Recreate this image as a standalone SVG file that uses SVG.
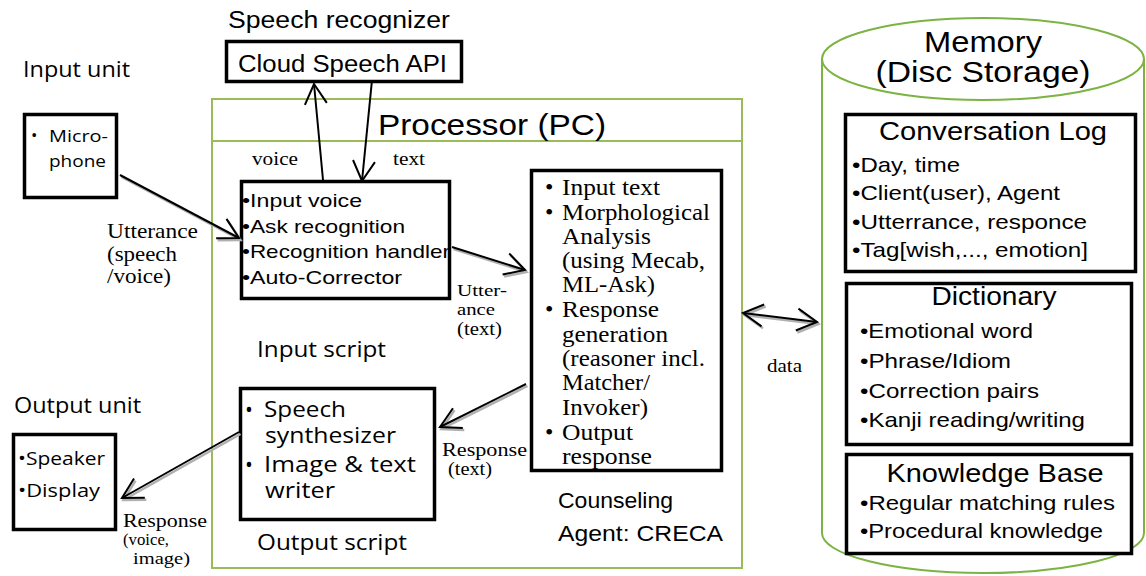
<svg xmlns="http://www.w3.org/2000/svg" width="1146" height="576" viewBox="0 0 1146 576">
<defs>
<style>
.box{fill:#fff;stroke:#000;stroke-width:3.5}
.ar{font-family:"Liberation Sans",Arial,sans-serif;fill:#000}
.ca{font-family:"Open Sans","Liberation Sans",sans-serif;fill:#000}
.tm{font-family:"Liberation Serif","Times New Roman",serif;fill:#000}
.ln{fill:none;stroke:#000;stroke-width:2}
.sh{fill:none;stroke:#b0b0b0;stroke-width:2.5}
</style>
<marker id="ah" viewBox="-24 -14 28 28" markerWidth="28" markerHeight="28" refX="0" refY="0" orient="auto-start-reverse" markerUnits="userSpaceOnUse">
<path d="M-20,-11 L0,0 L-20,11" fill="none" stroke="#000" stroke-width="2"/>
</marker>
<marker id="ahg" viewBox="-24 -14 28 28" markerWidth="28" markerHeight="28" refX="0" refY="0" orient="auto-start-reverse" markerUnits="userSpaceOnUse">
<path d="M-20,-11 L0,0 L-20,11" fill="none" stroke="#b0b0b0" stroke-width="2.5"/>
</marker>
</defs>
<rect width="1146" height="576" fill="#fff"/>

<g id="processor">
<rect x="212" y="99" width="530" height="469" fill="none" stroke="#9bbb59" stroke-width="2"/>
<line x1="212" y1="141" x2="742" y2="141" stroke="#9bbb59" stroke-width="2"/>
<text class="ar" x="378" y="135" font-size="29" textLength="228" lengthAdjust="spacingAndGlyphs">Processor (PC)</text>
<text class="ca" x="257" y="357" font-size="22" textLength="129" lengthAdjust="spacingAndGlyphs">Input script</text>
<text class="ca" x="257" y="550" font-size="22" textLength="150" lengthAdjust="spacingAndGlyphs">Output script</text>
<text class="ar" x="558" y="508" font-size="22" textLength="115" lengthAdjust="spacingAndGlyphs">Counseling</text>
<text class="ar" x="558" y="541" font-size="22" textLength="165" lengthAdjust="spacingAndGlyphs">Agent: CRECA</text>
</g>

<g id="memory">
<path d="M822,59 L822,533 A161,40 0 0 0 1144,533 L1144,59" fill="none" stroke="#7cb342" stroke-width="2"/>
<ellipse cx="983" cy="59" rx="161" ry="41" fill="#fff" stroke="#7cb342" stroke-width="2"/>
<text class="ar" x="983" y="52" font-size="29" text-anchor="middle" textLength="118" lengthAdjust="spacingAndGlyphs">Memory</text>
<text class="ar" x="983" y="82" font-size="29" text-anchor="middle" textLength="215" lengthAdjust="spacingAndGlyphs">(Disc Storage)</text>
</g>

<g id="speech-recognizer">
<text class="ar" x="228" y="28" font-size="23" textLength="222" lengthAdjust="spacingAndGlyphs">Speech recognizer</text>
<rect class="box" x="226.5" y="41.5" width="235" height="40"/>
<text class="ar" x="238" y="72" font-size="23" textLength="209" lengthAdjust="spacingAndGlyphs">Cloud Speech API</text>
</g>

<g id="input-unit">
<text class="ca" x="23" y="77" font-size="22" textLength="107" lengthAdjust="spacingAndGlyphs">Input unit</text>
<rect class="box" x="24.5" y="114.5" width="92" height="83"/>
<text class="ca" x="31" y="141" font-size="17">•</text>
<text class="ca" x="49" y="142" font-size="17" textLength="59" lengthAdjust="spacingAndGlyphs">Micro-</text>
<text class="ca" x="49" y="167" font-size="17" textLength="57" lengthAdjust="spacingAndGlyphs">phone</text>
</g>

<g id="input-script">
<rect class="box" x="241.5" y="181.5" width="208" height="117"/>
<text class="ar" x="242" y="207" font-size="19" textLength="120" lengthAdjust="spacingAndGlyphs">•Input voice</text>
<text class="ar" x="242" y="233" font-size="19" textLength="163" lengthAdjust="spacingAndGlyphs">•Ask recognition</text>
<text class="ar" x="242" y="258" font-size="19" textLength="208" lengthAdjust="spacingAndGlyphs">•Recognition handler</text>
<text class="ar" x="242" y="284" font-size="19" textLength="160" lengthAdjust="spacingAndGlyphs">•Auto-Corrector</text>
</g>

<g id="counseling-agent">
<rect class="box" x="531.5" y="170.5" width="190" height="300"/>
<g class="tm" font-size="24">
<text x="545" y="195">•</text><text x="562" y="195" textLength="98" lengthAdjust="spacingAndGlyphs">Input text</text>
<text x="545" y="220">•</text><text x="562" y="220" textLength="148" lengthAdjust="spacingAndGlyphs">Morphological</text>
<text x="562" y="244" textLength="89" lengthAdjust="spacingAndGlyphs">Analysis</text>
<text x="562" y="268" textLength="143" lengthAdjust="spacingAndGlyphs">(using Mecab,</text>
<text x="562" y="292" textLength="93" lengthAdjust="spacingAndGlyphs">ML-Ask)</text>
<text x="545" y="317">•</text><text x="562" y="317" textLength="97" lengthAdjust="spacingAndGlyphs">Response</text>
<text x="562" y="342" textLength="106" lengthAdjust="spacingAndGlyphs">generation</text>
<text x="562" y="366" textLength="143" lengthAdjust="spacingAndGlyphs">(reasoner incl.</text>
<text x="562" y="390" textLength="88" lengthAdjust="spacingAndGlyphs">Matcher/</text>
<text x="562" y="415" textLength="86" lengthAdjust="spacingAndGlyphs">Invoker)</text>
<text x="545" y="440">•</text><text x="562" y="440" textLength="71" lengthAdjust="spacingAndGlyphs">Output</text>
<text x="562" y="464" textLength="90" lengthAdjust="spacingAndGlyphs">response</text>
</g>
</g>

<g id="output-script">
<rect class="box" x="240.5" y="388.5" width="194" height="131"/>
<text class="ca" x="245" y="417" font-size="21">•</text>
<text class="ca" x="264" y="417" font-size="21" textLength="82" lengthAdjust="spacingAndGlyphs">Speech</text>
<text class="ca" x="265" y="443" font-size="21" textLength="131" lengthAdjust="spacingAndGlyphs">synthesizer</text>
<text class="ca" x="245" y="472" font-size="21">•</text>
<text class="ca" x="264" y="472" font-size="21" textLength="152" lengthAdjust="spacingAndGlyphs">Image &amp; text</text>
<text class="ca" x="265" y="498" font-size="21" textLength="70" lengthAdjust="spacingAndGlyphs">writer</text>
</g>

<g id="output-unit">
<text class="ca" x="14" y="413" font-size="22" textLength="127" lengthAdjust="spacingAndGlyphs">Output unit</text>
<rect class="box" x="13.5" y="434.5" width="102" height="95"/>
<text class="ca" x="18" y="465" font-size="19" textLength="87" lengthAdjust="spacingAndGlyphs">•Speaker</text>
<text class="ca" x="18" y="497" font-size="19" textLength="82" lengthAdjust="spacingAndGlyphs">•Display</text>
</g>

<g id="conversation-log">
<rect class="box" x="845.5" y="114.5" width="290" height="157"/>
<text class="ar" x="993" y="140" font-size="26" text-anchor="middle" textLength="228" lengthAdjust="spacingAndGlyphs">Conversation Log</text>
<text class="ar" x="852" y="172" font-size="21" textLength="108" lengthAdjust="spacingAndGlyphs">•Day, time</text>
<text class="ar" x="852" y="200" font-size="21" textLength="208" lengthAdjust="spacingAndGlyphs">•Client(user), Agent</text>
<text class="ar" x="852" y="229" font-size="21" textLength="235" lengthAdjust="spacingAndGlyphs">•Utterrance, responce</text>
<text class="ar" x="852" y="257" font-size="21" textLength="236" lengthAdjust="spacingAndGlyphs">•Tag[wish,..., emotion]</text>
</g>

<g id="dictionary">
<rect class="box" x="846.5" y="283.5" width="285" height="161"/>
<text class="ar" x="994" y="305" font-size="26" text-anchor="middle" textLength="125" lengthAdjust="spacingAndGlyphs">Dictionary</text>
<text class="ar" x="860" y="338" font-size="21" textLength="173" lengthAdjust="spacingAndGlyphs">•Emotional word</text>
<text class="ar" x="860" y="368" font-size="21" textLength="151" lengthAdjust="spacingAndGlyphs">•Phrase/Idiom</text>
<text class="ar" x="860" y="398" font-size="21" textLength="179" lengthAdjust="spacingAndGlyphs">•Correction pairs</text>
<text class="ar" x="860" y="427" font-size="21" textLength="225" lengthAdjust="spacingAndGlyphs">•Kanji reading/writing</text>
</g>

<g id="knowledge-base">
<rect class="box" x="846.5" y="454.5" width="285" height="99"/>
<text class="ar" x="995" y="482" font-size="26" text-anchor="middle" textLength="217" lengthAdjust="spacingAndGlyphs">Knowledge Base</text>
<text class="ar" x="860" y="510" font-size="21" textLength="255" lengthAdjust="spacingAndGlyphs">•Regular matching rules</text>
<text class="ar" x="860" y="538" font-size="21" textLength="243" lengthAdjust="spacingAndGlyphs">•Procedural knowledge</text>
</g>

<g id="connectors">
<g transform="translate(1.5,2)">
<path class="sh" d="M120,175 L239,238" marker-end="url(#ahg)"/>
<path class="sh" d="M452,247 L525,270" marker-end="url(#ahg)"/>
<path class="sh" d="M526,384 L440,427" marker-end="url(#ahg)"/>
<path class="sh" d="M239,432 L122,498" marker-end="url(#ahg)"/>
<path class="sh" d="M743,313 L817,322" marker-start="url(#ahg)" marker-end="url(#ahg)"/>
</g>
<path class="ln" d="M120,175 L239,238" marker-end="url(#ah)"/>
<path class="ln" d="M323,180 L314,84" marker-end="url(#ah)"/>
<path class="ln" d="M372,80 L362,181" marker-end="url(#ah)"/>
<path class="ln" d="M452,247 L525,270" marker-end="url(#ah)"/>
<path class="ln" d="M526,384 L440,427" marker-end="url(#ah)"/>
<path class="ln" d="M239,432 L122,498" marker-end="url(#ah)"/>
<path class="ln" d="M743,313 L817,322" marker-start="url(#ah)" marker-end="url(#ah)"/>
<g class="tm" font-size="19">
<text x="252" y="165" textLength="46" lengthAdjust="spacingAndGlyphs">voice</text>
<text x="393" y="165" textLength="32" lengthAdjust="spacingAndGlyphs">text</text>
<text x="107" y="238" font-size="21" textLength="91" lengthAdjust="spacingAndGlyphs">Utterance</text>
<text x="107" y="261" font-size="21" textLength="70" lengthAdjust="spacingAndGlyphs">(speech</text>
<text x="107" y="283" font-size="21" textLength="64" lengthAdjust="spacingAndGlyphs">/voice)</text>
<text x="457" y="296" font-size="17" textLength="50" lengthAdjust="spacingAndGlyphs">Utter-</text>
<text x="457" y="315" font-size="17" textLength="38" lengthAdjust="spacingAndGlyphs">ance</text>
<text x="457" y="335" font-size="18" textLength="45" lengthAdjust="spacingAndGlyphs">(text)</text>
<text x="442" y="456" textLength="85" lengthAdjust="spacingAndGlyphs">Response</text>
<text x="448" y="475" textLength="44" lengthAdjust="spacingAndGlyphs">(text)</text>
<text x="123" y="527" textLength="84" lengthAdjust="spacingAndGlyphs">Response</text>
<text x="123" y="545" font-size="17" textLength="46" lengthAdjust="spacingAndGlyphs">(voice,</text>
<text x="133" y="564" font-size="17" textLength="57" lengthAdjust="spacingAndGlyphs">image)</text>
<text x="767" y="372" font-size="18" textLength="35" lengthAdjust="spacingAndGlyphs">data</text>
</g>
</g>
</svg>
